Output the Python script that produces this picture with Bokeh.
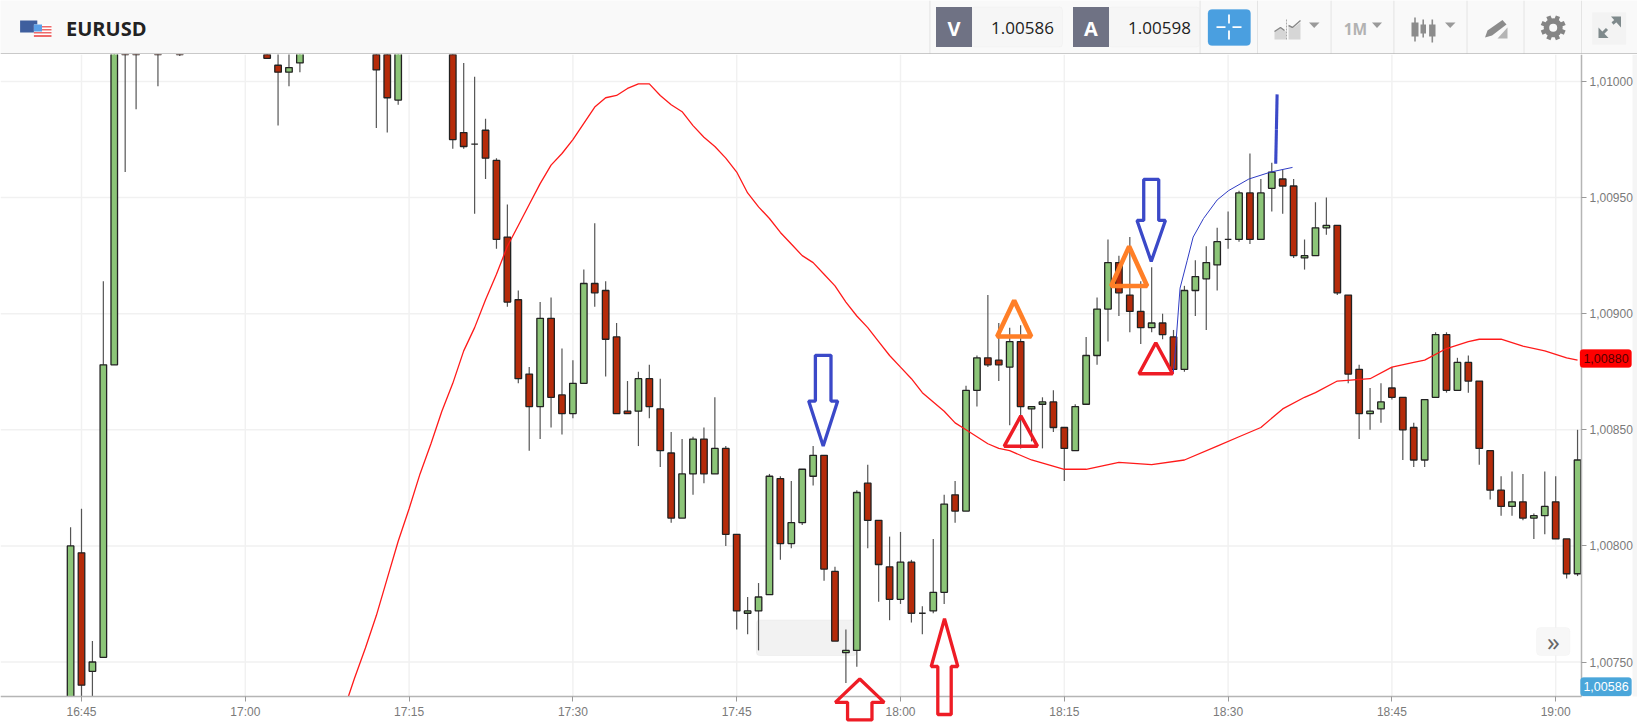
import math
from bokeh.plotting import figure
from bokeh.layouts import column
from bokeh.embed import file_html
from bokeh.resources import INLINE
from bokeh.core.properties import value
from bokeh.models import (Range1d, FixedTicker, CustomJSTickFormatter, BoxAnnotation,
                          PolyAnnotation, Label, ColumnDataSource)

symbol = "EURUSD"
bid_price = "1.00586"
ask_price = "1.00598"
timeframe = "1M"
time_ticks = ["16:45", "17:00", "17:15", "17:30", "17:45", "18:00", "18:15", "18:30", "18:45", "19:00"]
price_ticks = [1.0075, 1.008, 1.0085, 1.009, 1.0095, 1.01]
ma_tag = "1,00880"
bid_tag = "1,00586"

candle_times = ["16:44","16:45","16:46","16:47","16:48","16:49","16:50","16:52","16:54",
    "17:02","17:03","17:04","17:05","17:12","17:13","17:14","17:19","17:20","17:21","17:22","17:23","17:24",
    "17:25","17:26","17:27","17:28","17:29","17:30","17:31","17:32","17:33","17:34","17:35","17:36","17:37","17:38","17:39",
    "17:40","17:41","17:42","17:43","17:44","17:45","17:46","17:47","17:48","17:49","17:50","17:51","17:52","17:53","17:54",
    "17:55","17:56","17:57","17:58","17:59","18:00","18:01","18:02","18:03","18:04","18:05","18:06","18:07","18:08","18:09",
    "18:10","18:11","18:12","18:13","18:14","18:15","18:16","18:17","18:18","18:19","18:20","18:21","18:22","18:23","18:24",
    "18:25","18:26","18:27","18:28","18:29","18:30","18:31","18:32","18:33","18:34","18:35","18:36","18:37","18:38","18:39",
    "18:40","18:41","18:42","18:43","18:44","18:45","18:46","18:47","18:48","18:49","18:50","18:51","18:52","18:53","18:54",
    "18:55","18:56","18:57","18:58","18:59","19:00","19:01","19:02"]
# prices below are in units of 0.00001
opens = [100725,100797,100746,100752,100878,101040,101035,101030,101030,
    101022,101007,101004,101008,101030,101030,100992,101030,100978,100973,100979,100966,100933,
    100906,100874,100860,100898,100865,100857,100870,100913,100910,100890,100858,100858,100872,100859,100840,
    100812,100831,100846,100831,100842,100805,100771,100772,100779,100829,100801,100810,100830,100839,100789,
    100754,100755,100827,100811,100791,100777,100793,100771,100772,100780,100822,100815,100867,100881,100880,
    100877,100888,100859,100861,100862,100851,100841,100861,100882,100902,100922,100908,100901,100894,100896,
    100890,100876,100910,100915,100921,100932,100932,100952,100932,100954,100958,100955,100924,100925,100937,
    100938,100908,100876,100857,100859,100868,100864,100851,100837,100864,100891,100867,100879,100871,100841,
    100824,100817,100819,100812,100813,100819,100803,100788]
highs = [100808,100816,100759,100914,101040,101050,101045,101040,101040,
    101030,101015,101015,101020,101035,101035,101040,101040,101008,101002,100984,100967,100947,
    100910,100877,100905,100907,100885,100880,100919,100939,100914,100896,100871,100875,100878,100872,100849,
    100846,100847,100851,100864,100843,100805,100778,100784,100831,100830,100828,100833,100843,100839,100791,
    100764,100824,100835,100811,100804,100806,100794,100774,100803,100822,100828,100869,100882,100908,100896,
    100894,100895,100860,100864,100867,100851,100861,100890,100907,100932,100925,100933,100914,100920,100900,
    100893,100912,100923,100929,100937,100944,100953,100969,100958,100965,100962,100958,100932,100948,100950,
    100938,100908,100878,100868,100870,100877,100864,100853,100863,100892,100892,100881,100882,100871,100841,
    100830,100832,100831,100814,100832,100830,100803,100850]
lows = [100715,100725,100725,100752,100878,100961,100988,100998,101011,
    101010,100981,100998,101004,100980,100978,100990,100971,100971,100943,100958,100928,100903,
    100870,100841,100846,100851,100848,100855,100870,100903,100873,100857,100857,100843,100855,100834,100810,
    100812,100822,100827,100831,100800,100764,100762,100755,100779,100794,100799,100809,100826,100785,100759,
    100741,100748,100799,100776,100768,100775,100767,100762,100771,100775,100810,100815,100860,100877,100871,
    100852,100842,100845,100842,100849,100828,100841,100861,100878,100888,100899,100892,100887,100892,100889,
    100876,100875,100899,100893,100910,100928,100931,100930,100932,100944,100943,100924,100919,100925,100934,
    100908,100870,100846,100850,100853,100863,100837,100834,100834,100864,100866,100867,100866,100835,100820,
    100813,100813,100811,100803,100805,100803,100786,100787]
closes = [100800,100740,100750,100878,101030,101030,101025,101020,101022,
    101010,101004,101006,101018,101005,100993,101030,100975,100972,100973,100967,100932,100905,
    100872,100860,100898,100864,100857,100870,100913,100909,100889,100857,100857,100872,100860,100841,100812,
    100831,100846,100831,100842,100805,100772,100772,100778,100830,100801,100810,100833,100839,100790,100759,
    100755,100823,100811,100792,100777,100793,100771,100771,100780,100818,100815,100867,100881,100878,100878,
    100888,100860,100860,100862,100851,100842,100860,100882,100902,100922,100909,100901,100894,100896,100891,
    100876,100910,100916,100922,100931,100932,100952,100932,100952,100961,100955,100925,100925,100937,100938,
    100909,100874,100857,100858,100862,100864,100850,100837,100863,100891,100867,100879,100871,100842,100824,
    100817,100819,100812,100813,100817,100803,100788,100837]

ma_times = ["17:09","17:10","17:11","17:12","17:13","17:14","17:15","17:16","17:17","17:18","17:19","17:20","17:21","17:22","17:23",
    "17:24","17:25","17:26","17:27","17:28","17:29","17:30","17:31","17:32","17:33","17:34","17:35","17:36","17:37","17:38","17:39",
    "17:40","17:41","17:42","17:43","17:44","17:45","17:46","17:47","17:48","17:49","17:50","17:51","17:52","17:53","17:54",
    "17:55","17:56","17:57","17:58","17:59","18:00","18:01","18:02","18:03","18:04","18:05","18:06","18:07","18:08","18:09",
    "18:10","18:12","18:15","18:17","18:20","18:23","18:26","18:29","18:31","18:33","18:35","18:37","18:38","18:40","18:43",
    "18:45","18:47","18:48","18:50","18:52","18:53","18:55","18:57","18:59","19:01","19:02"]
ma_values = [100729,100743,100756,100770,100786,100802,100816,100831,100844,100858,100870,100884,100894,100906,100917,
    100929,100938,100947,100956,100964,100969,100975,100982,100989,100993,100994,100997,100999,100999,100994,100990,
    100987,100981,100976,100972,100967,100961,100952,100946,100941,100935,100930,100925,100922,100917,100912,
    100905,100899,100894,100888,100882,100877,100872,100866,100862,100858,100853,100850,100847,100844,100842,
    100841,100837,100833,100833,100836,100835,100837,100843,100847,100851,100859,100864,100866,100871,100872,
    100877,100879,100880,100885,100888,100889,100889,100886,100884,100881,100880]

trend_minutes = [144.97,145.2,145.6,146.26,146.8,147.75,149.0,150.04,151.9,153.9,155.9]
trend_values = [100874,100886,100911,100923,100933,100941,100949,100953,100958,100961,100963]

# hand-drawn marks: time in minutes after 16:00, price in 0.00001
blue_arrow_tips = [(112.92, 100843), (142.96, 100922.5)]
red_arrow_tips = [(116.27, 100742.7), (124.03, 100768.6)]
orange_apexes = [(130.41, 100905.7), (140.94, 100929)]
red_apexes = [(131.02, 100856), (143.38, 100887.5)]
stroke_base = (154.36, 100964.6)

PX_PER_MIN = 10.92
PX_PER_UNIT = 116.1 / 50.0


def mins(t):
    h, m = t.split(":")
    return (int(h) - 16) * 60 + int(m)


def price(v):
    return v / 1e5


def shape(tip, offs):
    return ([tip[0] + dx / PX_PER_MIN for dx, dy in offs],
            [price(tip[1] - dy / PX_PER_UNIT) for dx, dy in offs])


def X(px):
    return 45 + (px - 81) / PX_PER_MIN


def Y(py):
    return price(101000 - (py - 81) / PX_PER_UNIT)


# ---------- chart ----------
p = figure(width=1637, height=674, output_backend="svg", toolbar_location=None,
           x_range=Range1d(X(0), X(1637)), y_range=Range1d(Y(728), Y(54)), y_axis_location="right",
           min_border=0)
p.outline_line_color = None
p.background_fill_color = "white"
p.border_fill_color = "white"
p.grid.visible = False
p.xaxis.ticker = FixedTicker(ticks=[mins(t) for t in time_ticks])
p.xaxis.major_label_overrides = {mins(t): t for t in time_ticks}
p.yaxis.ticker = FixedTicker(ticks=price_ticks)
p.yaxis.formatter = CustomJSTickFormatter(code="return tick.toFixed(5).replace('.', ',');")
p.xaxis.fixed_location = Y(696)
p.yaxis.fixed_location = X(1581)
p.xaxis.bounds = (X(0), X(1581))
p.yaxis.bounds = (Y(696), Y(54))
for ax in (p.xaxis[0], p.yaxis[0]):
    ax.axis_line_color = "#b5b5b5"
    ax.axis_line_width = 1.5
    ax.major_tick_line_color = "#999999"
    ax.major_tick_in = 0
    ax.major_tick_out = 5
    ax.minor_tick_line_color = None
    ax.major_label_text_color = "#7a7a7a"
    ax.major_label_text_font = "Liberation Sans"
    ax.major_label_text_font_size = "12px"
    ax.major_label_standoff = 3

grid_color = "#f1f1f1"
tx = [mins(t) for t in time_ticks]
p.segment(tx, Y(696), tx, Y(54), line_color=grid_color, line_width=1.5, level="underlay")
p.segment(X(0), price_ticks, X(1581), price_ticks, line_color=grid_color, line_width=1.5, level="underlay")

p.add_layout(BoxAnnotation(left=X(756), right=X(856), top=Y(619.5), bottom=Y(655),
                           fill_color="#f2f2f2", fill_alpha=1, line_color="#dedede", line_width=1,
                           border_radius=3, level="underlay"))

ct = [mins(t) for t in candle_times]
colors = ["#8cc578" if c >= o else "#b52b0a" for o, c in zip(opens, closes)]
src = ColumnDataSource(dict(
    t=ct, o=[price(v) for v in opens], h=[price(v) for v in highs],
    l=[price(v) for v in lows], c=[price(v) for v in closes], color=colors))
p.segment("t", "h", "t", "l", source=src, line_color="#555555", line_width=1.2)
p.vbar(x="t", width=0.6, top="o", bottom="c", source=src, fill_color="color", line_color="#222222", line_width=1.3)

p.line([mins(t) for t in ma_times], [price(v) for v in ma_values], line_color="#ff1a1a", line_width=1.3)
p.line(trend_minutes, [price(v) for v in trend_values], line_color="#2f3cc4", line_width=1.0)

# what runs below the price area is hidden, as the axis there is drawn over it
p.quad(left=[X(0)], right=[X(1637)], top=[Y(696)], bottom=[Y(728)], fill_color="white", line_color=None)


def poly(xs, ys, color, width):
    p.add_layout(PolyAnnotation(xs=xs, ys=ys, xs_units="data", ys_units="data", fill_alpha=0,
                                line_color=color, line_width=width, line_alpha=1, level="overlay"))


BLUE = "#3b49c8"
RED = "#ee1c25"
ORANGE = "#ff7f27"
poly(*shape(blue_arrow_tips[0], [(-7.8, -90.7), (7.8, -90.7), (7.8, -45), (14.5, -45), (0, 0), (-14.5, -45), (-7.8, -45)]), BLUE, 3.3)
poly(*shape(blue_arrow_tips[1], [(-7.5, -82), (7.5, -82), (7.5, -41), (14.2, -41), (0, 0), (-14.2, -41), (-7.5, -41)]), BLUE, 3.3)
poly(*shape(red_arrow_tips[0], [(0, 0), (24.5, 23.4), (12.2, 23.4), (12.2, 41), (-12.2, 41), (-12.2, 23.4), (-24.5, 23.4)]), RED, 3.3)
poly(*shape(red_arrow_tips[1], [(0, 0), (13.3, 47.7), (6.7, 47.7), (6.7, 95.7), (-6.7, 95.7), (-6.7, 47.7), (-13.3, 47.7)]), RED, 3.3)
poly(*shape(orange_apexes[0], [(0, 0), (17, 36), (-17, 36)]), ORANGE, 4.6)
poly(*shape(orange_apexes[1], [(0, 0), (18, 39.7), (-18, 39.7)]), ORANGE, 4.6)
poly(*shape(red_apexes[0], [(0, 0), (16.6, 30.3), (-16.6, 30.3)]), RED, 3.5)
poly(*shape(red_apexes[1], [(0, 0), (16.8, 31), (-16.8, 31)]), RED, 3.5)
sx, sy = shape(stroke_base, [(0, 0), (0.7, -34.3), (1.4, -69.3)])
p.line(sx[:2], sy[:2], line_color=BLUE, line_width=3.1)
p.line(sx[1:], sy[1:], line_color=BLUE, line_width=3.1)

# price tags and the scroll button
p.add_layout(BoxAnnotation(left=X(1579.5), right=X(1631), top=Y(349), bottom=Y(367), fill_color="#ff0000",
                           fill_alpha=1, line_color="#ff0000", border_radius=3, level="overlay"))
p.add_layout(Label(x=X(1605.5), y=Y(358), text=ma_tag, text_align="center", text_baseline="middle",
                   text_color="#550000", text_font="Liberation Sans", text_font_size="12.5px", level="overlay"))
p.add_layout(BoxAnnotation(left=X(1580), right=X(1631), top=Y(677), bottom=Y(695.5), fill_color="#4aa6da",
                           fill_alpha=1, line_color="#4aa6da", border_radius=3, level="overlay"))
p.add_layout(Label(x=X(1605.5), y=Y(686), text=bid_tag, text_align="center", text_baseline="middle",
                   text_color="white", text_font="Liberation Sans", text_font_size="12.5px", level="overlay"))
p.add_layout(BoxAnnotation(left=X(1536), right=X(1569.5), top=Y(627), bottom=Y(655), fill_color="#f7f7f7",
                           fill_alpha=1, line_color="#efefef", border_radius=4, level="overlay"))
p.add_layout(Label(x=X(1553), y=Y(640), text="\u00bb", text_align="center", text_baseline="middle",
                   text_color="#666666", text_font="Open Sans", text_font_size="26px", level="overlay"))
p.add_layout(BoxAnnotation(left=X(1632), right=X(1637), top=Y(54), bottom=Y(728), fill_color="#f5f5f5",
                           fill_alpha=1, line_color=None, level="underlay"))

# ---------- header ----------
h = figure(width=1637, height=54, output_backend="svg", toolbar_location=None,
           x_range=Range1d(0, 1637), y_range=Range1d(54, 0), x_axis_type=None, y_axis_type=None,
           min_border=0)
h.outline_line_color = None
h.grid.visible = False
h.background_fill_color = "#f9f9f9"
h.border_fill_color = "#f9f9f9"

h.quad(left=[19.6], right=[36.8], top=[20], bottom=[32], fill_color="#3f5f9e", line_color=None)
h.quad(left=[33.4], right=[51], top=[24], bottom=[36.7], fill_color="#ffffff", line_color=None)
h.quad(left=[33.4] * 4, right=[51] * 4, top=[25.4, 28.4, 31.4, 34.4], bottom=[27, 30, 33, 36.4],
       fill_color="#ee6a6a", line_color=None)
h.quad(left=[33.4], right=[41.5], top=[24], bottom=[31], fill_color="#5aa0e8", line_color=None)
hf = value("Open Sans")
h.text([65.5], [27.5], text=[symbol], text_font=hf, text_font_style="bold", text_font_size="20px",
       text_color="#222222", text_baseline="middle")

sep = [929.4, 1199.6, 1257, 1330.6, 1393.4, 1466.5, 1523.5, 1581]
h.segment(sep, 0, sep, 54, line_color="#e4e4e4", line_width=1)
for l, r in ((971.5, 1062), (1108.5, 1199)):
    h.add_layout(BoxAnnotation(left=l, right=r, top=6.5, bottom=46.5, fill_color="#f6f6f6", fill_alpha=1,
                               line_color="#ececec", border_radius=3, level="underlay"))
h.quad(left=[935.5, 1072.5], right=[971.5, 1108.5], top=[6.5, 6.5], bottom=[46.5, 46.5],
       fill_color="#6f7284", line_color=None)
h.text([953.5, 1090.5], [27.5, 27.5], text=["V", "A"], text_font=hf, text_font_style="bold", text_font_size="20px",
       text_color="white", text_align="center", text_baseline="middle")
h.text([1022, 1159], [27, 27], text=[bid_price, ask_price], text_font=hf, text_font_size="17px",
       text_color="#222222", text_align="center", text_baseline="middle")
h.add_layout(BoxAnnotation(left=1207.5, right=1250, top=9, bottom=45, fill_color="#4a9fe0", fill_alpha=1,
                           line_color="#4a9fe0", border_radius=4, level="underlay"))
h.segment([1216, 1232, 1228.5, 1228.5], [26.7, 26.7, 14, 30], [1225, 1241, 1228.5, 1228.5], [26.7, 26.7, 23, 39],
          line_color="white", line_width=1.8)

# dropdown carets
h.patches([[1308.5, 1319, 1313.7], [1371.5, 1381.5, 1376.5], [1444.5, 1455, 1449.7]],
          [[22, 22, 27.5]] * 3, fill_color="#9a9a9a", line_color=None)
# line/area icon
h.patch([1274, 1280, 1285.5, 1285.5, 1274], [31, 27, 31, 39, 39], fill_color="#d6d6d6", line_color=None)
h.patch([1288, 1292, 1300, 1300, 1288], [26, 28, 22, 39, 39], fill_color="#d6d6d6", line_color=None)
h.line([1286, 1286], [19, 40], line_color="#aaaaaa", line_width=1, line_dash="2 1")
h.line([1288, 1292, 1300], [25, 27, 20], line_color="#888888", line_width=1.4)
h.line([1274, 1280, 1284], [31, 27, 30], line_color="#888888", line_width=1.4)
h.text([1355], [28], text=[timeframe], text_font=hf, text_font_style="bold", text_font_size="15.5px", text_color="#b2b2b2",
       text_align="center", text_baseline="middle")
# candle icon
h.segment([1414.5, 1422.7, 1431.8], [17, 19, 19], [1414.5, 1422.7, 1431.8], [41, 37, 42], line_color="#8c8c8c", line_width=1.6)
h.quad(left=[1411, 1420, 1428.6], right=[1418, 1425.5, 1435], top=[22, 24, 24], bottom=[36, 33, 36], fill_color="#8c8c8c", line_color=None)
# pencil icon
h.patch([1497, 1507, 1507], [38, 27, 38], fill_color="#b5b5b5", line_color=None)
h.patch([1484.5, 1487, 1502, 1506, 1491.5], [37, 30, 19.5, 24, 35], fill_color="#8c8c8c", line_color=None)
# gear
gx, gy = 1552.7, 27.3
ang = [i * math.pi / 4 + math.pi / 8 for i in range(8)]
h.segment([gx + 8 * math.cos(a) for a in ang], [gy + 8 * math.sin(a) for a in ang],
          [gx + 12.5 * math.cos(a) for a in ang], [gy + 12.5 * math.sin(a) for a in ang],
          line_color="#858585", line_width=4.5)
h.scatter([gx], [gy], size=19, fill_color="#858585", line_color=None)
h.scatter([gx], [gy], size=8, fill_color="#f9f9f9", line_color=None)
# expand button
h.add_layout(BoxAnnotation(left=1591.7, right=1625.7, top=11.7, bottom=44.3, fill_color="#f3f3f3", fill_alpha=1,
                           line_color=None, level="underlay"))
h.segment([1602, 1612], [33, 23], [1606.5, 1618], [28.5, 18], line_color="#7f8a8c", line_width=3)
h.patches([[1598, 1598, 1608], [1620.5, 1620.5, 1610.5]], [[27, 37.5, 37.5], [27, 16, 16]], fill_color="#7f8a8c", line_color=None)
h.line([0, 1637], [53.5, 53.5], line_color="#b8b8b8", line_width=1.5)

layout = column(h, p, spacing=0)
open("out.html", "w").write(file_html(layout, INLINE))
